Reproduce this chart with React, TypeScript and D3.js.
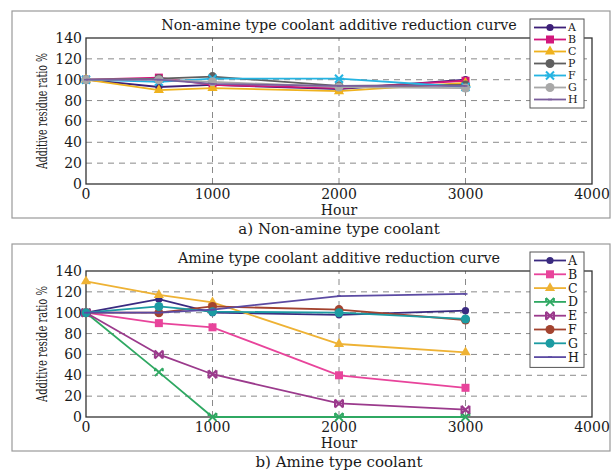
import * as d3 from "d3";

// hours at which the additive was measured
const hours = [0, 576, 1000, 2000, 3000];
const xTicks = [0, 1000, 2000, 3000, 4000];
const yTicks = [0, 20, 40, 60, 80, 100, 120, 140];

// a) non-amine type coolant
const nonAmineNames = ["A", "B", "C", "P", "F", "G", "H"];
const nonA = [100, 93, 95, 91, 100];
const nonB = [100, 102, 95, 92, 99];
const nonC = [100, 90, 92, 89, 97];
const nonP = [100, 101, 103, 94, 95];
const nonF = [100, 98, 101, 101, 93];
const nonG = [100, 100, 98, 93, 92];
const nonH = [100, 100, 96, 94, 94];

// b) amine type coolant
const amineNames = ["A", "B", "C", "D", "E", "F", "G", "H"];
const amA = [100, 113, 100, 98, 102];
const amB = [100, 90, 86, 40, 28];
const amC = [130, 117, 110, 70, 62];
const amD = [100, 43, 0, 0, 0];
const amE = [100, 60, 41, 13, 7];
const amF = [100, 100, 106, 103, 93];
const amG = [100, 106, 101, 100, 94];
const amH = [100, 100, 103, 116, 118];

type Mark = "dot" | "square" | "triangle" | "circle" | "star" | "x" | "bow" | "point";
type Series = { name: string; values: number[]; color: string; mark: Mark };

const nonAmine: Series[] = [
  { name: nonAmineNames[0], values: nonA, color: "#3d1f78", mark: "dot" },
  { name: nonAmineNames[1], values: nonB, color: "#d2177c", mark: "square" },
  { name: nonAmineNames[2], values: nonC, color: "#efb21e", mark: "triangle" },
  { name: nonAmineNames[3], values: nonP, color: "#5f5f5f", mark: "circle" },
  { name: nonAmineNames[4], values: nonF, color: "#25b4e2", mark: "star" },
  { name: nonAmineNames[5], values: nonG, color: "#a8a8a8", mark: "circle" },
  { name: nonAmineNames[6], values: nonH, color: "#7a5e9c", mark: "point" },
];

const amine: Series[] = [
  { name: amineNames[0], values: amA, color: "#3a2a80", mark: "dot" },
  { name: amineNames[1], values: amB, color: "#e8449b", mark: "square" },
  { name: amineNames[2], values: amC, color: "#eeb234", mark: "triangle" },
  { name: amineNames[3], values: amD, color: "#2fa862", mark: "x" },
  { name: amineNames[4], values: amE, color: "#9b3a8c", mark: "bow" },
  { name: amineNames[5], values: amF, color: "#a3432f", mark: "circle" },
  { name: amineNames[6], values: amG, color: "#1c9ba2", mark: "circle" },
  { name: amineNames[7], values: amH, color: "#5b4aa2", mark: "point" },
];

const FONT = "'DejaVu Serif', serif";
const INK = "#1a1a1a";

function Marker({ x, y, color, mark }: { x: number; y: number; color: string; mark: Mark }) {
  switch (mark) {
    case "dot":
      return <circle cx={x} cy={y} r={3.6} fill={color} />;
    case "square":
      return <rect x={x - 4} y={y - 4} width={8} height={8} fill={color} />;
    case "triangle":
      return <path d={d3.symbol(d3.symbolTriangle, 45)()!} transform={`translate(${x},${y})`} fill={color} />;
    case "circle":
      return <circle cx={x} cy={y} r={4.5} fill={color} />;
    case "star":
      return (
        <path
          d={`M${x - 4},${y - 4}L${x + 4},${y + 4}M${x - 4},${y + 4}L${x + 4},${y - 4}M${x - 5},${y}L${x + 5},${y}`}
          stroke={color}
          strokeWidth={2}
        />
      );
    case "x":
      return (
        <path
          d={`M${x - 4},${y - 4}L${x + 4},${y + 4}M${x - 4},${y + 4}L${x + 4},${y - 4}M${x - 4},${y - 4}L${x - 4},${y - 1}M${x + 4},${y - 4}L${x + 4},${y - 1}`}
          stroke={color}
          strokeWidth={1.8}
        />
      );
    case "bow":
      return (
        <path
          d={`M${x - 4},${y - 4}L${x + 4},${y + 4}M${x - 4},${y + 4}L${x + 4},${y - 4}M${x - 4},${y - 4}L${x - 4},${y + 4}M${x + 4},${y - 4}L${x + 4},${y + 4}`}
          stroke={color}
          strokeWidth={2}
        />
      );
    default:
      return <rect x={x - 2} y={y - 0.8} width={4} height={1.6} fill={color} />;
  }
}

function Panel({
  top,
  title,
  yLabel,
  caption,
  series,
  rowGap,
  legendTop,
  legendFont,
}: {
  top: number;
  title: string;
  yLabel: string;
  caption: string;
  series: Series[];
  rowGap: number;
  legendTop: number;
  legendFont: number;
}) {
  const x = d3.scaleLinear().domain([0, 4000]).range([86, 592]);
  const y = d3.scaleLinear().domain([0, 140]).range([top + 146, top]);
  const line = d3
    .line<number>()
    .x((_, i) => x(hours[i]))
    .y((d) => y(d));
  const midX = (x(0) + x(4000)) / 2;
  const legendH = series.length * rowGap + 5;

  return (
    <g fontFamily={FONT}>
      <rect x={12} y={top - 27} width={598} height={207} fill="none" stroke="#9a9a9a" strokeWidth={1.2} />
      {/* grid */}
      <g stroke="#8a8a8a" strokeWidth={1} strokeDasharray="6,5">
        {yTicks.slice(1, -1).map((t) => (
          <line key={t} x1={x(0)} x2={x(4000)} y1={y(t)} y2={y(t)} />
        ))}
        {xTicks.slice(1, -1).map((t) => (
          <line key={t} x1={x(t)} x2={x(t)} y1={y(0)} y2={y(140)} />
        ))}
      </g>
      <rect x={x(0)} y={y(140)} width={x(4000) - x(0)} height={y(0) - y(140)} fill="none" stroke="#333" strokeWidth={1.3} />
      {/* ticks */}
      <g fontSize={14} fill={INK}>
        {yTicks.map((t) => (
          <text key={t} x={x(0) - 4} y={y(t)} dy="0.36em" textAnchor="end">
            {t}
          </text>
        ))}
        {xTicks.map((t) => (
          <text key={t} x={x(t)} y={y(0) + 15} textAnchor="middle">
            {t}
          </text>
        ))}
      </g>
      <text x={midX} y={y(0) + 31} textAnchor="middle" fontSize={14} fill={INK}>
        Hour
      </text>
      <text
        transform={`translate(47,${(y(0) + y(140)) / 2}) rotate(-90)`}
        textAnchor="middle"
        fontSize={14}
        fill={INK}
        textLength={116}
        lengthAdjust="spacingAndGlyphs"
      >
        {yLabel}
      </text>
      <text x={midX} y={top - 8} textAnchor="middle" fontSize={14.3} fill={INK}>
        {title}
      </text>
      <text x={midX} y={top + 196} textAnchor="middle" fontSize={15} fill={INK}>
        {caption}
      </text>
      {/* series */}
      {series.map((s) => (
        <g key={s.name}>
          <path d={line(s.values)!} fill="none" stroke={s.color} strokeWidth={1.8} />
          {s.values.map((v, i) => (
            <Marker key={i} x={x(hours[i])} y={y(v)} color={s.color} mark={s.mark} />
          ))}
        </g>
      ))}
      {/* legend */}
      <rect x={530} y={legendTop} width={54} height={legendH} fill="#fff" stroke="#555" strokeWidth={1} />
      {series.map((s, i) => {
        const ly = legendTop + 8.5 + i * rowGap;
        return (
          <g key={s.name}>
            <line x1={534} x2={566} y1={ly} y2={ly} stroke={s.color} strokeWidth={1.8} />
            <Marker x={550} y={ly} color={s.color} mark={s.mark} />
            <text x={568} y={ly} dy="0.36em" fontSize={legendFont} fill={INK}>
              {s.name}
            </text>
          </g>
        );
      })}
    </g>
  );
}

export default function App() {
  return (
    <svg width={613} height={470} style={{ position: "absolute", left: 0, top: 0, background: "#fff" }}>
      <Panel
        top={38}
        title="Non-amine type coolant additive reduction curve"
        yLabel="Additive residue ratio %"
        caption="a) Non-amine type coolant"
        series={nonAmine}
        rowGap={12}
        legendTop={19}
        legendFont={11}
      />
      <Panel
        top={271}
        title="Amine type coolant additive reduction curve"
        yLabel="Additive reside ratio %"
        caption="b) Amine type coolant"
        series={amine}
        rowGap={13.8}
        legendTop={252}
        legendFont={12.5}
      />
    </svg>
  );
}
